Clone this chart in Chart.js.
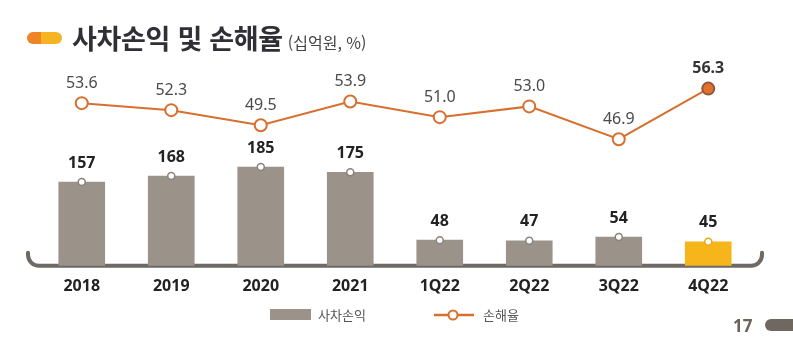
<!DOCTYPE html>
<html lang="ko">
<head>
  <meta charset="UTF-8">
  <title>사차손익 및 손해율</title>
  <script src="https://cdn.jsdelivr.net/npm/chart.js"></script>
  <style>
    body {
      margin: 0;
      width: 793px;
      height: 339px;
      background: #ffffff;
      font-family: "Noto Sans CJK KR", "Noto Sans", sans-serif;
      position: relative;
      overflow: hidden;
    }

    #wrap {
      position: absolute;
      left: 0;
      top: 0;
      width: 793px;
      height: 339px;
    }

    .titulo {
      position: absolute;
      left: 27px;
      top: 18px;
      display: flex;
      align-items: center;
      white-space: nowrap;
    }

    .pilula {
      width: 35px;
      height: 12px;
      border-radius: 6px;
      background: linear-gradient(90deg, #ef8426 0 40%, #f7b422 40% 100%);
      margin-right: 10px;
    }

    .titulo b {
      font-size: 27px;
      font-weight: 700;
      color: #2f2f35;
      letter-spacing: -0.3px;
    }

    .titulo span {
      font-size: 16px;
      color: #444;
      margin-left: 5px;
      margin-top: 8px;
    }

    .legenda {
      position: absolute;
      top: 305px;
      font-size: 13px;
      color: #555;
      display: flex;
      align-items: center;
    }

    .pagina {
      position: absolute;
      left: 733px;
      top: 314px;
      font-family: "Noto Sans", sans-serif;
      font-size: 17px;
      font-weight: 700;
      color: #6b625b;
    }

    .pagina-barra {
      position: absolute;
      left: 765px;
      top: 319px;
      width: 40px;
      height: 12px;
      border-radius: 6px;
      background: #6f6760;
    }
  </style>
</head>
<body>
  <div id="wrap"><canvas id="grafico" width="793" height="339"></canvas></div>

  <div class="titulo"><div class="pilula"></div><b>사차손익 및 손해율</b><span>(십억원, %)</span></div>

  <div class="legenda" style="left:270px">
    <div style="width:41px;height:11px;background:#9b928a;margin-right:7px"></div>사차손익
  </div>
  <div class="legenda" style="left:433px">
    <svg width="42" height="14" style="margin-right:8px">
      <line x1="1" y1="7" x2="41" y2="7" stroke="#d86f2f" stroke-width="2.5"/>
      <circle cx="20" cy="7" r="4.5" fill="#fff" stroke="#d86f2f" stroke-width="2"/>
    </svg>손해율
  </div>

  <div class="pagina">17</div>
  <div class="pagina-barra"></div>

  <script>
    const categorias = ['2018', '2019', '2020', '2021', '1Q22', '2Q22', '3Q22', '4Q22'];
    const sachaSoneik = [157, 168, 185, 175, 48, 47, 54, 45];
    const sonhaeyul = [53.6, 52.3, 49.5, 53.9, 51.0, 53.0, 46.9, 56.3];

    const corBarra = categorias.map((c, i) => i === categorias.length - 1 ? '#f7b51c' : '#9b928a');
    const corPino = categorias.map((c, i) => i === categorias.length - 1 ? '#e9a816' : '#8a827b');
    const fundoPonto = sonhaeyul.map((v, i) => i === sonhaeyul.length - 1 ? '#e0702a' : '#ffffff');
    const bordaPonto = sonhaeyul.map((v, i) => i === sonhaeyul.length - 1 ? '#8c5a3c' : '#d86f2f');

    // linha do eixo com as pontas curvadas
    const eixoPlugin = {
      id: 'eixo',
      beforeDatasetsDraw(chart) {
        const ctx = chart.ctx;
        const y = chart.chartArea.bottom;
        ctx.save();
        ctx.strokeStyle = '#6e6964';
        ctx.lineWidth = 4;
        ctx.lineCap = 'round';
        ctx.beginPath();
        ctx.moveTo(28, y - 13);
        ctx.arcTo(28, y, 40, y, 11);
        ctx.lineTo(750, y);
        ctx.arcTo(762, y, 762, y - 13, 11);
        ctx.lineTo(762, y - 13);
        ctx.stroke();
        ctx.restore();
      }
    };

    const rotulosPlugin = {
      id: 'rotulos',
      afterDatasetsDraw(chart) {
        const ctx = chart.ctx;
        ctx.save();
        ctx.textAlign = 'center';
        ctx.textBaseline = 'middle';

        const barras = chart.getDatasetMeta(1).data;
        barras.forEach((b, i) => {
          ctx.beginPath();
          ctx.arc(b.x, b.y, 3.5, 0, Math.PI * 2);
          ctx.fillStyle = '#ffffff';
          ctx.fill();
          ctx.lineWidth = 1.5;
          ctx.strokeStyle = corPino[i];
          ctx.stroke();
          ctx.font = 'bold 16px "Noto Sans", sans-serif';
          ctx.fillStyle = '#222222';
          ctx.fillText(sachaSoneik[i], b.x, b.y - 19);
        });

        const pontos = chart.getDatasetMeta(0).data;
        pontos.forEach((p, i) => {
          const ultimo = i === pontos.length - 1;
          ctx.font = (ultimo ? 'bold ' : '') + '16px "Noto Sans", sans-serif';
          ctx.fillStyle = ultimo ? '#333333' : '#4a4a4a';
          ctx.fillText(sonhaeyul[i].toFixed(1), p.x, p.y - 20);
        });
        ctx.restore();
      }
    };

    new Chart(document.getElementById('grafico'), {
      data: {
        labels: categorias,
        datasets: [{
          type: 'line',
          label: '손해율',
          data: sonhaeyul,
          yAxisID: 'y1',
          borderColor: '#d86f2f',
          borderWidth: 2,
          pointRadius: 6,
          pointBorderWidth: 2,
          pointBackgroundColor: fundoPonto,
          pointBorderColor: bordaPonto,
          order: 0
        }, {
          type: 'bar',
          label: '사차손익',
          data: sachaSoneik,
          yAxisID: 'y',
          backgroundColor: corBarra,
          barThickness: 46,
          order: 1
        }]
      },
      options: {
        responsive: false,
        animation: false,
        layout: { padding: { left: 37, right: 40, top: 80, bottom: 32 } },
        plugins: {
          legend: { display: false },
          tooltip: { enabled: false }
        },
        scales: {
          x: {
            grid: { display: false, drawTicks: false },
            border: { display: false },
            ticks: {
              padding: 11,
              color: '#222222',
              font: { family: '"Noto Sans", sans-serif', size: 16, weight: 'bold' }
            }
          },
          y: { display: false, min: 0, max: 348 },
          y1: { display: false, min: 23.4, max: 57.9 }
        }
      },
      plugins: [eixoPlugin, rotulosPlugin]
    });
  </script>
</body>
</html>
